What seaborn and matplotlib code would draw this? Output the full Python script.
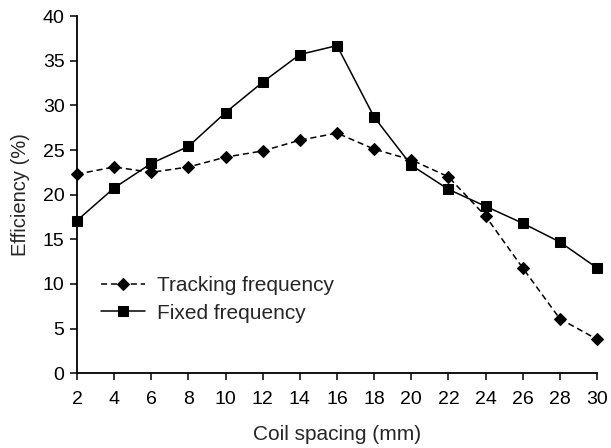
import matplotlib
matplotlib.use("Agg")
import matplotlib.pyplot as plt
import seaborn as sns
import pandas as pd

spacing = [2, 4, 6, 8, 10, 12, 14, 16, 18, 20, 22, 24, 26, 28, 30]
tracking = [22.3, 23.1, 22.5, 23.1, 24.2, 24.9, 26.1, 26.9, 25.1, 23.9, 22.0, 17.6, 11.8, 6.1, 3.8]
fixed = [17.1, 20.75, 23.5, 25.4, 29.2, 32.6, 35.7, 36.7, 28.7, 23.3, 20.6, 18.7, 16.8, 14.7, 11.8]
series_names = ["Tracking frequency", "Fixed frequency"]
yticks = [0, 5, 10, 15, 20, 25, 30, 35, 40]

sns.set_theme(style="ticks")
plt.rcParams['font.family'] = ['Liberation Sans', 'DejaVu Sans']

df = pd.DataFrame({
    "Coil spacing (mm)": spacing * 2,
    "Efficiency (%)": tracking + fixed,
    "series": [series_names[0]] * len(spacing) + [series_names[1]] * len(spacing),
})

fig = plt.figure(figsize=(6.11, 4.48), dpi=100)
ax = fig.add_axes([0.126, 0.167, 0.851, 0.797])

sns.lineplot(data=df, x="Coil spacing (mm)", y="Efficiency (%)", hue="series", style="series",
             palette={series_names[0]: "black", series_names[1]: "black"},
             markers={series_names[0]: "D", series_names[1]: "s"},
             dashes={series_names[0]: (4, 2.5), series_names[1]: ""},
             markersize=6.5, linewidth=1.1, markeredgecolor="black", ax=ax)

ax.set_xlim(2, 30)
ax.set_ylim(0, 40)
ax.set_xticks(spacing)
ax.set_yticks(yticks)
ax.tick_params(labelsize=14, length=5, width=1.1, colors="black", pad=4)
ax.tick_params(axis="x", pad=8)
ax.set_xlabel("Coil spacing (mm)", fontsize=15, labelpad=12)
ax.set_ylabel("Efficiency (%)", fontsize=14.5, labelpad=9)
for s in ["top", "right"]:
    ax.spines[s].set_visible(False)
for s in ["left", "bottom"]:
    ax.spines[s].set_linewidth(1.3)
    ax.spines[s].set_color("black")
for line in ax.lines:
    line.set_clip_on(False)

handles, labels = ax.get_legend_handles_labels()
ax.legend(handles=handles, labels=labels, frameon=False, fontsize=15,
          loc="upper left", bbox_to_anchor=(0.03, 0.295), handlelength=2.1,
          handletextpad=0.6, labelspacing=0.4, borderaxespad=0)

fig.savefig("out.png", dpi=100)
